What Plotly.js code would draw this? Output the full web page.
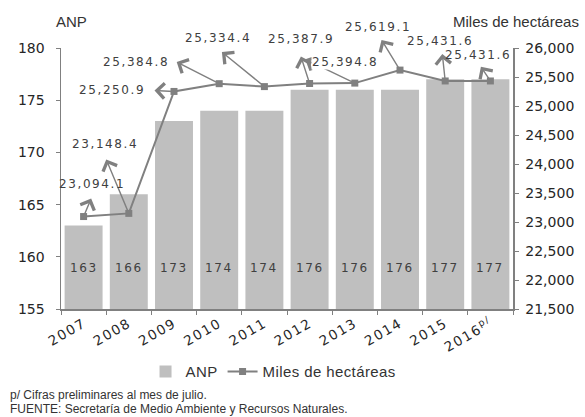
<!DOCTYPE html>
<html><head><meta charset="utf-8">
<script src="https://cdn.plot.ly/plotly-3.0.1.min.js"></script>
<style>
html,body{margin:0;padding:0;background:#fff;}
text.annotation-text[style*="DejaVu"]{letter-spacing:1.6px;}
.xtick text{letter-spacing:1.6px;}
.legendtext{letter-spacing:0.4px;}
</style>
</head><body>
<div id="chart" style="width:585px;height:417px;"></div>
<script>
// ---- data ----
const years = ['2007','2008','2009','2010','2011','2012','2013','2014','2015','2016<sup>p/</sup>'];
const anp = [163,166,173,174,174,176,176,176,177,177];
const hectareas = [23094.1,23148.4,25250.9,25384.8,25334.4,25387.9,25394.8,25619.1,25431.6,25431.6];

// ---- label placement (pixel offsets from each point) ----
const textOff = [[8,-33],[-24,-69],[-62,-1],[-83,-22],[-46,-49],[-9,-45],[-10,-21],[-22,-43],[-5,-40],[-12,-26]];
const headOff = [[8,-19],[-23,-55],[-20,-1],[-43,-22],[-43,-35],[-9,-28],[-50,-24],[-19,-31],[-3,-28],[-10,-15]];

const fmt = v => v.toLocaleString('en-US',{minimumFractionDigits:1,maximumFractionDigits:1});
const gray = '#808080';
const numFont = {family:'DejaVu Sans', size:12, color:'#404040'};

const annotations = [];
// bar value labels (category index i)
years.forEach((y,i)=>{
  annotations.push({x:i, y:158.9, xref:'x', yref:'y', xanchor:'center', yanchor:'middle',
    text:String(anp[i]), showarrow:false, font:numFont});
});
// arrows for line labels
years.forEach((y,i)=>{
  annotations.push({x:i, y:hectareas[i], xref:'x', yref:'y2', text:' ', font:{size:1},
    borderpad:0, showarrow:true, ax:headOff[i][0], ay:headOff[i][1], arrowside:'start',
    startarrowhead:4, startarrowsize:2.1, arrowwidth:1.4, arrowcolor:gray, standoff:0, startstandoff:0});
});
// line value labels
years.forEach((y,i)=>{
  annotations.push({x:i, y:hectareas[i], xref:'x', yref:'y2', xanchor:'center', yanchor:'middle',
    text:fmt(hectareas[i]), showarrow:false,
    xshift:textOff[i][0], yshift:-textOff[i][1], font:numFont,
    bgcolor: i===6 ? '#ffffff' : 'rgba(0,0,0,0)', borderpad:0});
});
// axis titles and notes
const tFont = {family:'Liberation Sans', size:15, color:'#333'};
annotations.push({xref:'paper', yref:'paper', x:0.024, y:1.10, xanchor:'center', yanchor:'middle', text:'ANP', showarrow:false, font:tFont});
annotations.push({xref:'paper', yref:'paper', x:1.007, y:1.103, xanchor:'center', yanchor:'middle', text:'Miles de hectáreas', showarrow:false, font:tFont});
const nFont = {family:'Liberation Sans', size:12, color:'#333'};
annotations.push({xref:'paper', yref:'paper', x:-0.117, xanchor:'left', y:-0.328, yanchor:'middle', text:'p/ Cifras preliminares al mes de julio.', showarrow:false, font:nFont});
annotations.push({xref:'paper', yref:'paper', x:-0.117, xanchor:'left', y:-0.382, yanchor:'middle', text:'FUENTE: Secretaría de Medio Ambiente y Recursos Naturales.', showarrow:false, font:nFont});

const traces = [
  {type:'bar', x:years, y:anp, name:'ANP', marker:{color:'#bfbfbf'}, hoverinfo:'none'},
  {type:'scatter', mode:'lines+markers', x:years, y:hectareas, yaxis:'y2', name:'Miles de hectáreas',
   line:{color:gray, width:2}, marker:{symbol:'square', size:7, color:gray}, hoverinfo:'none'}
];

const axFont = {family:'DejaVu Sans', size:14, color:'#262626'};
const layout = {
  width:585, height:417,
  margin:{l:61, r:72, t:48, b:108},
  paper_bgcolor:'#fff', plot_bgcolor:'#fff',
  bargap:0.16,
  showlegend:true,
  legend:{orientation:'h', x:0.187, xanchor:'left', y:-0.24, yanchor:'middle',
    font:{family:'Liberation Sans', size:15, color:'#333'}, traceorder:'normal'},
  xaxis:{type:'category', range:[-0.5, 9.5], autorange:false, showline:true, linecolor:gray, linewidth:1.5,
    ticks:'outside', tickson:'boundaries',
    ticklen:4, tickcolor:gray, tickangle:-30, tickfont:{family:'DejaVu Sans', size:13.5, color:'#262626'},
    showgrid:false, zeroline:false, fixedrange:true},
  yaxis:{range:[155,180], autorange:false, dtick:5, showline:true, linecolor:gray, linewidth:1.5, ticks:'outside',
    ticklen:4, tickcolor:gray, tickfont:axFont, showgrid:false, zeroline:false, ticklabelstandoff:8},
  yaxis2:{overlaying:'y', side:'right', range:[21500,26000], autorange:false, dtick:500, tickformat:',', showline:true,
    linecolor:gray, linewidth:1.5, ticks:'outside', ticklen:4, tickcolor:gray, tickfont:axFont,
    showgrid:false, zeroline:false, ticklabelstandoff:4},
  annotations:annotations
};
Plotly.newPlot('chart', traces, layout, {displayModeBar:false, staticPlot:true});
</script>
</body></html>
